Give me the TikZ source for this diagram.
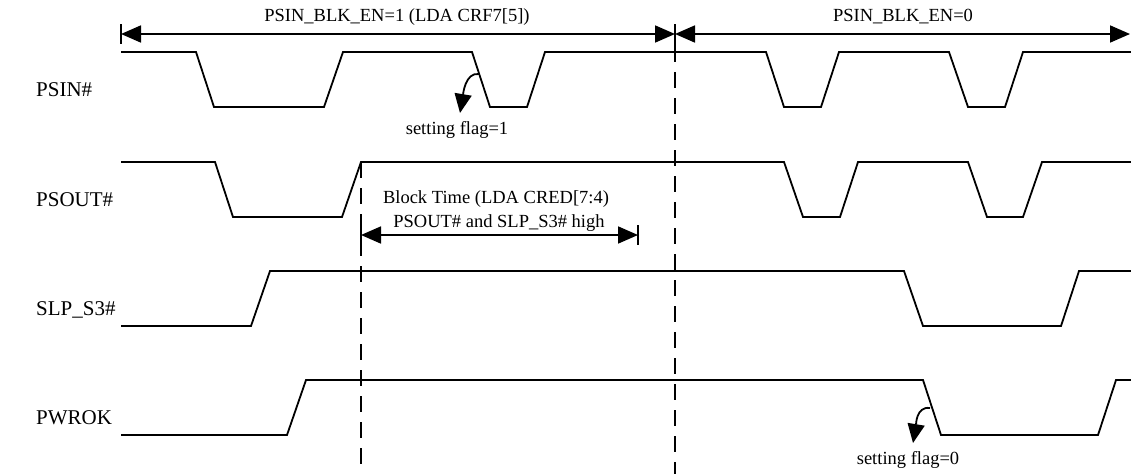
\documentclass[tikz,border=0pt]{standalone}
\usepackage{fontspec}
\setmainfont{Liberation Serif}
\usetikzlibrary{arrows.meta}

\begin{document}
\begin{tikzpicture}[
        x=1pt, y=-1pt,
        every node/.style={font=\fontsize{18.5}{20}\selectfont, inner sep=0pt},
        siglabel/.style={anchor=base west, font=\fontsize{21}{24}\selectfont},
        sig/.style={line width=1.8pt, line join=miter},
        bar/.style={line width=1.8pt},
        guide/.style={line width=1.8pt, dash pattern=on 16pt off 10pt},
        dim/.style={line width=1.8pt, {Triangle[length=20pt,width=17pt]}-{Triangle[length=20pt,width=17pt]}},
        flag/.style={line width=1.8pt, -{Triangle[length=19pt,width=17pt]}}
    ]
    \useasboundingbox (0,0) rectangle (1131,474);

    % signal names
    \node[siglabel] (psinlbl) at (36,96) {PSIN\#};
    \node[siglabel] (psoutlbl) at (36,206) {PSOUT\#};
    \node[siglabel] (slplbl) at (36,315) {SLP\_S3\#};
    \node[siglabel] (pwroklbl) at (36,424) {PWROK};

    % waveforms
    \draw[sig] (121,52) -- (196,52) -- (214,107) -- (324,107) -- (343,52) -- (472,52) -- (490,107) -- (527,107) -- (545,52)
        -- (766,52) -- (784,107) -- (821,107) -- (839,52) -- (949,52) -- (968,107) -- (1005,107) -- (1023,52) -- (1131,52);
    \draw[sig] (121,162) -- (215,162) -- (233,217) -- (342,217) -- (361,162) -- (784,162) -- (803,217) -- (840,217) -- (858,162)
        -- (968,162) -- (987,217) -- (1023,217) -- (1042,162) -- (1131,162);
    \draw[sig] (121,326) -- (251,326) -- (270,271) -- (904,271) -- (923,326) -- (1061,326) -- (1079,271) -- (1131,271);
    \draw[sig] (121,435) -- (287,435) -- (306,380) -- (923,380) -- (941,435) -- (1098,435) -- (1116,380) -- (1131,380);

    % enable / disable ranges
    \coordinate (enL) at (121,34);
    \coordinate (enM) at (675,34);
    \coordinate (enR) at (1130,34);
    \draw[bar] (121,24) -- (121,44);
    \draw[bar] (675,24) -- (675,62);
    \draw[dim] (enL) -- (enM);
    \draw[dim] (enM) -- (enR);
    \node[anchor=base] (en1) at (397,21) {PSIN\_BLK\_EN=1 (LDA CRF7[5])};
    \node[anchor=base] (en0) at (903,21) {PSIN\_BLK\_EN=0};

    % time marks
    \coordinate (markA) at (361,162);
    \coordinate (markAend) at (361,474);
    \coordinate (markB) at (675,62);
    \coordinate (markBend) at (675,474);
    \draw[guide] (markA) -- (markAend);
    \draw[guide, dash phase=16pt] (markB) -- (markBend);

    % block time
    \coordinate (blkL) at (361,235);
    \coordinate (blkR) at (638,235);
    \draw[bar] (361,225) -- (361,245);
    \draw[bar] (638,225) -- (638,245);
    \draw[dim] (blkL) -- (blkR);
    \node[anchor=base] (blk1) at (496,203) {Block Time (LDA CRED[7:4)};
    \node[anchor=base] (blk2) at (499,227) {PSOUT\# and SLP\_S3\# high};

    % flags
    \coordinate (f1s) at (479,74);
    \coordinate (f1t) at (460,113);
    \draw[flag] (f1s) .. controls +(-14,-2) and +(3,-18) .. (f1t);
    \node[anchor=base] (flag1) at (457,134) {setting flag=1};

    \coordinate (f0s) at (930,408);
    \coordinate (f0t) at (913,443);
    \draw[flag] (f0s) .. controls +(-14,-2) and +(3,-18) .. (f0t);
    \node[anchor=base] (flag0) at (908,464) {setting flag=0};

\end{tikzpicture}
\end{document}
